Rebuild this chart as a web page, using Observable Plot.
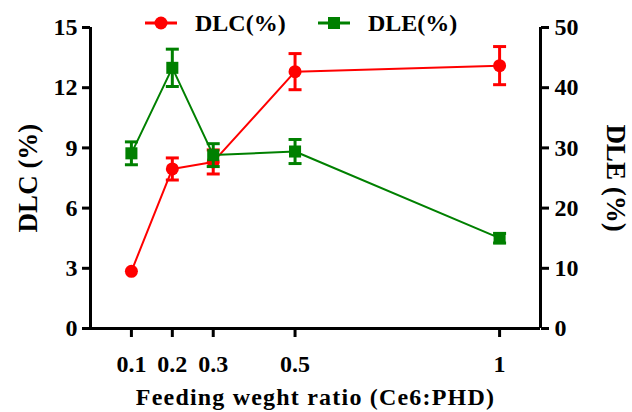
<!DOCTYPE html>
<html>
<head>
<meta charset="utf-8">
<script src="https://cdn.jsdelivr.net/npm/d3@7"></script>
<script src="https://cdn.jsdelivr.net/npm/@observablehq/plot@0.6"></script>
<style>
  html, body { margin: 0; padding: 0; background: #fff; }
  #wrap { position: relative; width: 632px; height: 412px; font-family: "Liberation Serif", "Times New Roman", serif; font-weight: bold; }
  #legend { position: absolute; left: 0; top: 8px; width: 632px; height: 30px; font-size: 24px; }
  .item { position: absolute; top: 0; display: flex; align-items: center; height: 30px; }
  .item svg { margin-right: 18px; }
  text[aria-label="x-title"], g[aria-label="x-title"] text { letter-spacing: 1.2px; }
</style>
</head>
<body>
<div id="wrap">
  <div id="chart"></div>
  <div id="legend"></div>
</div>
<script>
// ---- data ----
const ratios = [0.1, 0.2, 0.3, 0.5, 1];
const dlc = [2.85, 7.95, 8.3, 12.8, 13.1];
const dlcErr = [0, 0.55, 0.6, 0.9, 0.95];
const dle = [29.1, 43.3, 28.8, 29.4, 15.0];
const dleErr = [1.9, 3.1, 1.9, 2.0, 0.8];
const xTicks = [0.1, 0.2, 0.3, 0.5, 1];
const leftTicks = [0, 3, 6, 9, 12, 15];
const rightTicks = [0, 10, 20, 30, 40, 50];
const seriesNames = ["DLC(%)", "DLE(%)"];
const xTitle = "Feeding weght ratio (Ce6:PHD)";
const yLeftTitle = "DLC (%)";
const yRightTitle = "DLE (%)";

const RED = "#ff0000", GREEN = "#008000";
const k = 15 / 50; // right axis (DLE) mapped onto left scale

const dlcData = ratios.map((x, i) => ({x, y: dlc[i], e: dlcErr[i], lo: dlc[i] - dlcErr[i], hi: dlc[i] + dlcErr[i]}));
const dleData = ratios.map((x, i) => ({x, y: dle[i] * k, e: dleErr[i], lo: (dle[i] - dleErr[i]) * k, hi: (dle[i] + dleErr[i]) * k}));

const cap = {
  draw(ctx, size) {
    const r = Math.sqrt(size / Math.PI);
    ctx.moveTo(-r, 0); ctx.lineTo(r, 0);
  }
};

function series(data, color, symbol, r) {
  const withErr = data.filter(d => d.e > 0);
  return [
    Plot.line(data, {x: "x", y: "y", stroke: color, strokeWidth: 2}),
    Plot.ruleX(withErr, {x: "x", y1: "lo", y2: "hi", stroke: color, strokeWidth: 3}),
    Plot.dot(withErr, {x: "x", y: "lo", symbol: cap, r: 6.5, stroke: color, strokeWidth: 3, fill: "none"}),
    Plot.dot(withErr, {x: "x", y: "hi", symbol: cap, r: 6.5, stroke: color, strokeWidth: 3, fill: "none"}),
    Plot.dot(data, {x: "x", y: "y", symbol, r, fill: color, stroke: "none"})
  ];
}

const chart = Plot.plot({
  width: 632,
  height: 412,
  marginLeft: 90,
  marginRight: 92,
  marginTop: 27,
  marginBottom: 84,
  style: {fontFamily: "Liberation Serif, Times New Roman, serif", fontWeight: "bold", color: "black", background: "white", overflow: "visible"},
  x: {domain: [0, 1.1]},
  y: {domain: [0, 15]},
  marks: [
    Plot.axisX({ticks: xTicks, tickSize: 9, tickPadding: 17, strokeWidth: 3, fontSize: 24, tickFormat: d => String(d), label: null}),
    Plot.axisY({anchor: "left", ticks: leftTicks, tickSize: 8, tickPadding: 5, strokeWidth: 3, fontSize: 24, label: null}),
    Plot.axisY({anchor: "right", ticks: rightTicks.map(v => v * k), tickSize: 8, tickPadding: 6, strokeWidth: 3, fontSize: 24, tickFormat: d => String(Math.round(d / k)), label: null}),
    Plot.ruleX([0], {stroke: "black", strokeWidth: 3}),
    Plot.ruleX([1.1], {stroke: "black", strokeWidth: 3}),
    Plot.ruleY([0], {stroke: "black", strokeWidth: 3}),
    Plot.text([xTitle], {frameAnchor: "bottom", dy: 76, fontSize: 24, fill: "black", ariaLabel: () => "x-title"}),
    Plot.text([yLeftTitle], {frameAnchor: "left", textAnchor: "middle", dx: -62, rotate: -90, fontSize: 27, fill: "black"}),
    Plot.text([yRightTitle], {frameAnchor: "right", textAnchor: "middle", dx: 75, rotate: 90, fontSize: 27, fill: "black"}),
    ...series(dlcData, RED, "circle", 6.5),
    ...series(dleData, GREEN, "square", 6.8)
  ]
});
document.getElementById("chart").appendChild(chart);

// legend
const legend = document.getElementById("legend");
const items = [
  {name: seriesNames[0], color: RED, left: 145, shape: "circle"},
  {name: seriesNames[1], color: GREEN, left: 318, shape: "square"}
];
for (const it of items) {
  const div = document.createElement("div");
  div.className = "item";
  div.style.left = it.left + "px";
  const mk = it.shape === "circle"
    ? `<circle cx="16" cy="10" r="6.5" fill="${it.color}"/>`
    : `<rect x="10" y="4" width="12" height="12" fill="${it.color}"/>`;
  div.innerHTML = `<svg width="32" height="20"><line x1="0" x2="32" y1="10" y2="10" stroke="${it.color}" stroke-width="3"/>${mk}</svg><span>${it.name}</span>`;
  legend.appendChild(div);
}
</script>
</body>
</html>
